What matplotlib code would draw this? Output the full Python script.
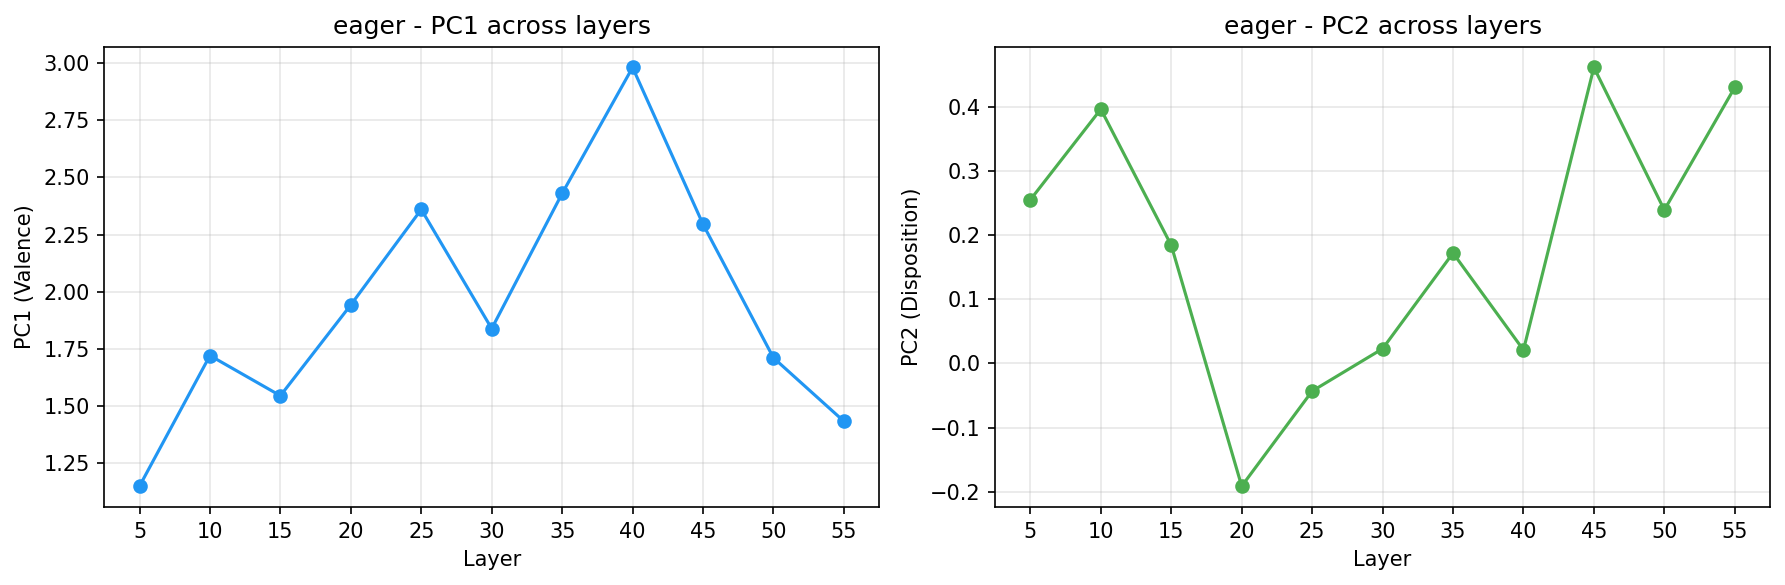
import matplotlib
matplotlib.use("Agg")
import matplotlib.pyplot as plt

# data
layers = [5, 10, 15, 20, 25, 30, 35, 40, 45, 50, 55]
pc1_values = [1.148, 1.72, 1.544, 1.942, 2.36, 1.838, 2.43, 2.982, 2.295, 1.71, 1.432]
pc2_values = [0.255, 0.396, 0.184, -0.191, -0.043, 0.023, 0.172, 0.021, 0.461, 0.239, 0.430]

word = "eager"

fig, axes = plt.subplots(1, 2, figsize=(12, 4), dpi=150)

ax = axes[0]
ax.plot(layers, pc1_values, marker='o', color='#2196F3', linewidth=1.5, markersize=6)
ax.set_title(f'{word} - PC1 across layers')
ax.set_xlabel('Layer')
ax.set_ylabel('PC1 (Valence)')
ax.set_xticks(layers)
ax.grid(True, alpha=0.3)

ax = axes[1]
ax.plot(layers, pc2_values, marker='o', color='#4CAF50', linewidth=1.5, markersize=6)
ax.set_title(f'{word} - PC2 across layers')
ax.set_xlabel('Layer')
ax.set_ylabel('PC2 (Disposition)')
ax.set_xticks(layers)
ax.grid(True, alpha=0.3)

plt.tight_layout()
plt.savefig('out.png', dpi=150, bbox_inches='tight')
